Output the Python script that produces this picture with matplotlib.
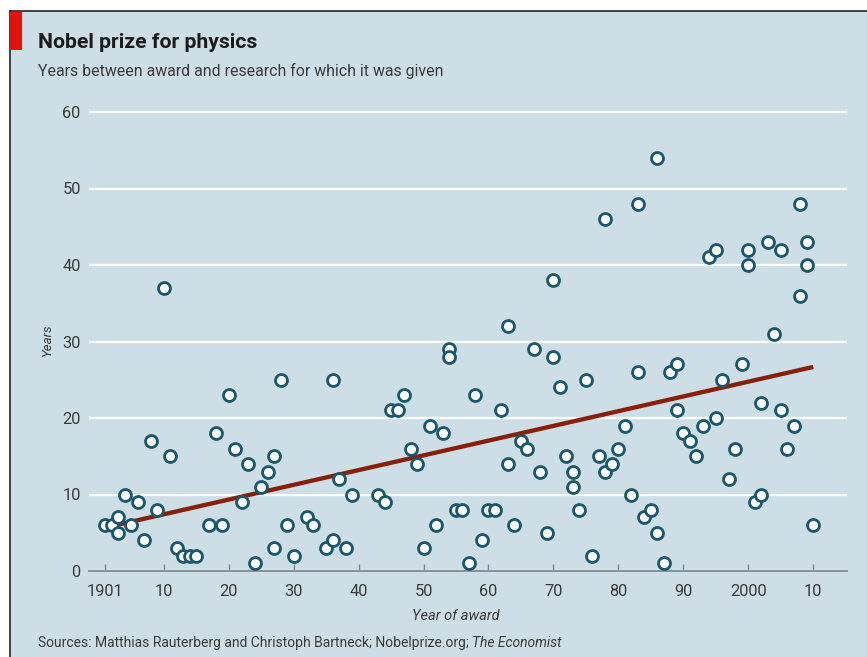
import numpy as np
import matplotlib
matplotlib.use("Agg")
import matplotlib.pyplot as plt
from matplotlib.patches import Rectangle
from matplotlib.lines import Line2D

plt.rcParams['font.family'] = ['Roboto', 'DejaVu Sans']

# data: (year of award, years since research)
years = [1901, 1902, 1903, 1903, 1904, 1905, 1906, 1907, 1908, 1909,
         1910, 1911, 1912, 1913, 1914, 1915, 1917, 1918, 1919, 1920,
         1921, 1922, 1923, 1924, 1925, 1926, 1927, 1927, 1928, 1929,
         1930, 1932, 1933, 1935, 1936, 1936, 1937, 1938, 1939, 1943,
         1944, 1945, 1946, 1947, 1948, 1949, 1950, 1951, 1952, 1953,
         1954, 1954, 1955, 1956, 1957, 1958, 1959, 1960, 1961, 1962,
         1963, 1963, 1964, 1965, 1966, 1967, 1968, 1969, 1970, 1970,
         1971, 1972, 1973, 1973, 1974, 1975, 1976, 1977, 1978, 1978,
         1979, 1980, 1981, 1982, 1983, 1983, 1984, 1985, 1986, 1986,
         1987, 1988, 1989, 1989, 1990, 1991, 1992, 1993, 1994, 1995,
         1995, 1996, 1997, 1998, 1999, 2000, 2000, 2001, 2002, 2002,
         2003, 2004, 2005, 2005, 2006, 2007, 2008, 2008, 2009, 2009,
         2010]
gap = [6, 6, 7, 5, 10, 6, 9, 4, 17, 8,
       37, 15, 3, 2, 2, 2, 6, 18, 6, 23,
       16, 9, 14, 1, 11, 13, 15, 3, 25, 6,
       2, 7, 6, 3, 4, 25, 12, 3, 10, 10,
       9, 21, 21, 23, 16, 14, 3, 19, 6, 18,
       29, 28, 8, 8, 1, 23, 4, 8, 8, 21,
       32, 14, 6, 17, 16, 29, 13, 5, 38, 28,
       24, 15, 13, 11, 8, 25, 2, 15, 46, 13,
       14, 16, 19, 10, 48, 26, 7, 8, 54, 5,
       1, 26, 27, 21, 18, 17, 15, 19, 41, 42,
       20, 25, 12, 16, 27, 42, 40, 9, 22, 10,
       43, 31, 42, 21, 16, 19, 48, 36, 43, 40,
       6]

xticks = [1901, 1910, 1920, 1930, 1940, 1950, 1960, 1970, 1980, 1990, 2000, 2010]
xticklabels = ['1901', '10', '20', '30', '40', '50', '60', '70', '80', '90', '2000', '10']
yticks = [0, 10, 20, 30, 40, 50, 60]

W, H = 867, 657
bg = '#cedee6'
fig = plt.figure(figsize=(W / 100, H / 100), dpi=100)
fig.patch.set_facecolor('white')

# panel background with black border on left and top
fig.patches.append(Rectangle((10 / W, 0), 1, 1 - 11 / H, transform=fig.transFigure,
                             facecolor=bg, edgecolor='none', zorder=-5))
fig.lines.append(Line2D([10 / W, 10 / W], [0, 1 - 11 / H], transform=fig.transFigure,
                        color='#222222', lw=1.2, zorder=-4))
fig.lines.append(Line2D([10 / W, 1], [1 - 11 / H, 1 - 11 / H], transform=fig.transFigure,
                        color='#222222', lw=1.2, zorder=-4))
fig.patches.append(Rectangle((10 / W, 1 - 50 / H), 12 / W, 38 / H, transform=fig.transFigure,
                             facecolor='#e3120b', edgecolor='none', zorder=-3))

ax = fig.add_axes([89 / W, (H - 571) / H, (847 - 89) / W, (571 - 104.35) / H])
ax.set_facecolor(bg)
ax.set_xlim(1898.5, 2015.2)
ax.set_ylim(0, 61)

for s in ['top', 'right', 'left']:
    ax.spines[s].set_visible(False)
ax.spines['bottom'].set_color('#7f8a90')
ax.spines['bottom'].set_linewidth(1.3)

ax.set_yticks(yticks)
ax.set_yticklabels([str(v) for v in yticks])
ax.yaxis.grid(True, color='white', lw=1.6)
ax.set_axisbelow(True)
ax.tick_params(axis='y', length=0, pad=6, labelsize=11.8, labelcolor='#3a3a3a')
ax.set_xticks(xticks)
ax.set_xticklabels(xticklabels)
ax.tick_params(axis='x', direction='in', length=5, width=1, color='#7f8a90',
               pad=9, labelsize=11.8, labelcolor='#3a3a3a')

# trend line
coef = np.polyfit(years, gap, 1)
tx = np.array([1901, 2010])
ax.plot(tx, np.polyval(coef, tx), color='#8a1f08', lw=3.1, solid_capstyle='butt', zorder=2)

ax.plot(years, gap, 'o', ms=8.6, mfc='white', mec='#17586f', mew=2.0, zorder=3,
        clip_on=False)

fig.text(38 / W, 1 - 43 / H, 'Nobel prize for physics', fontsize=15.2, fontweight='bold',
         color='#1a1a1a', va='center')
fig.text(38 / W, 1 - 71 / H, 'Years between award and research for which it was given',
         fontsize=11.4, color='#3a3a3a', va='center')
fig.text(47 / W, 1 - 340 / H, 'Years', rotation=90, fontsize=9.5, style='italic',
         color='#3a3a3a', ha='center', va='center')
fig.text(456 / W, 1 - 616 / H, 'Year of award', fontsize=10.5, style='italic',
         color='#3a3a3a', ha='center', va='center')

t = fig.text(38 / W, 1 - 643 / H, 'Sources: Matthias Rauterberg and Christoph Bartneck; Nobelprize.org; ',
             fontsize=10.0, color='#3a3a3a', va='center')
fig.canvas.draw()
bb = t.get_window_extent(fig.canvas.get_renderer())
fig.text(bb.x1 / W, 1 - 643 / H, 'The Economist', fontsize=10.0, style='italic',
         color='#3a3a3a', va='center')

fig.savefig('out.png', dpi=100, facecolor=fig.get_facecolor())
